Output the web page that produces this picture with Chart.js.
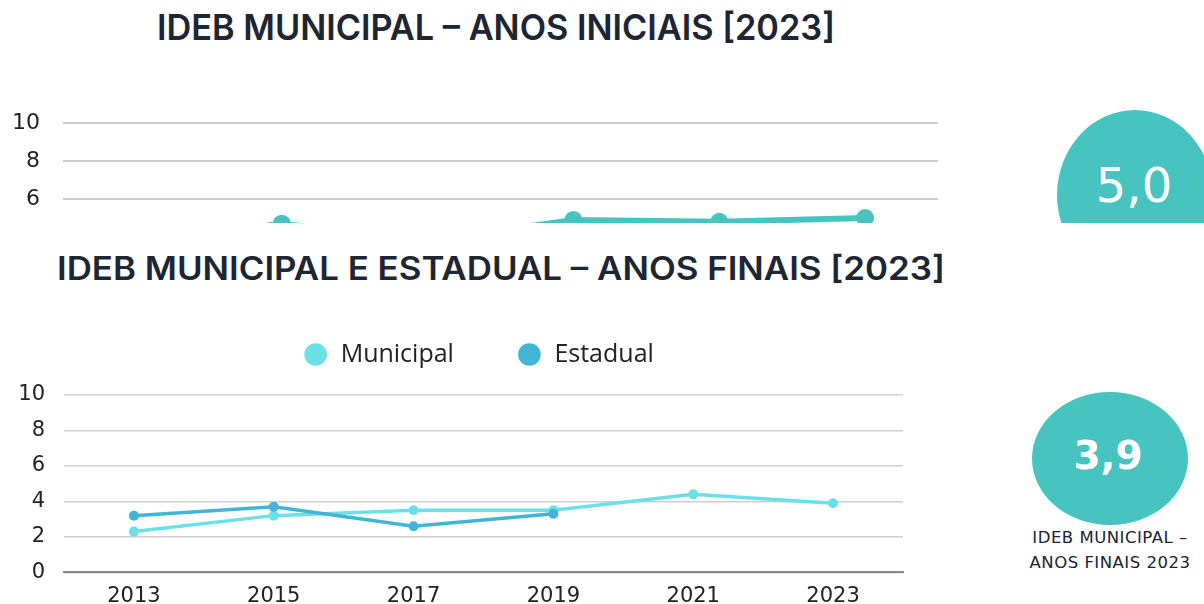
<!DOCTYPE html>
<html>
<head>
<meta charset="utf-8">
<script src="https://cdn.jsdelivr.net/npm/chart.js@4.4.1/dist/chart.umd.min.js"></script>
<style>
  html, body { margin:0; padding:0; background:#ffffff; }
  body { width:1204px; height:604px; overflow:hidden; position:relative; font-family:"Liberation Sans", Arial, sans-serif; }
  #topPanel { position:absolute; left:0; top:0; width:1204px; height:223px; overflow:hidden; }
  .title { position:absolute; white-space:nowrap; font-weight:600; color:#1f2633; font-family:Inter, "Liberation Sans", Arial, sans-serif; transform-origin:0 0; }
  #title1 { left:157px; top:9px; font-size:36px; line-height:36px; }
  #title2 { left:57px; top:253px; font-size:32px; line-height:32px; }
  #topChartBox { position:absolute; left:0; top:0; width:947px; height:353px; }
  #bottomChartBox { position:absolute; left:0; top:279px; width:944px; height:325px; }
  .ellipse { position:absolute; background:#47c4bf; border-radius:50%; }
  .badgeText { position:absolute; color:#ffffff; text-align:center; white-space:nowrap; font-family:"DejaVu Sans", sans-serif; }
  #caption { position:absolute; left:1010px; width:200px; top:525px; text-align:center; font-family:"DejaVu Sans", sans-serif; font-size:16.5px; line-height:25px; letter-spacing:0.5px; color:#1b2233; white-space:nowrap; }
</style>
</head>
<body>
<div id="topPanel">
  <div class="title" id="title1" data-w="678">IDEB MUNICIPAL – ANOS INICIAIS [2023]</div>
  <div id="topChartBox"><canvas id="topChart" width="947" height="353"></canvas></div>
  <div class="ellipse" style="left:1057px; top:110px; width:156px; height:170px;"></div>
  <div class="badgeText" style="left:1034px; width:200px; top:155px; height:60px; line-height:60px; font-size:48px;">5,0</div>
</div>

<div class="title" id="title2" data-w="888">IDEB MUNICIPAL E ESTADUAL – ANOS FINAIS [2023]</div>
<div id="bottomChartBox"><canvas id="bottomChart" width="944" height="325"></canvas></div>

<div class="ellipse" style="left:1032px; top:392px; width:156px; height:133px;"></div>
<div class="badgeText" style="left:1008px; width:200px; top:426px; height:60px; line-height:60px; font-size:39px; font-weight:bold;">3,9</div>
<div id="caption">IDEB MUNICIPAL –<br>ANOS FINAIS 2023</div>

<script>
// ---- data ----
const years = ['2013', '2015', '2017', '2019', '2021', '2023'];
const iniciaisMunicipal = [3.7, 4.7, 3.8, 4.9, 4.8, 5.0];
const finaisMunicipal = [2.3, 3.2, 3.5, 3.5, 4.4, 3.9];
const finaisEstadual = [3.2, 3.7, 2.6, 3.3, null, null];
const yMin = 0;
const yMax = 10;
const yStep = 2;

// ---- styles ----
const tickColor = '#222222';
const gridColor = '#cfcfcf';

// fit titles to the reference widths
document.querySelectorAll('.title').forEach(el => {
  const target = parseFloat(el.dataset.w);
  const w = el.getBoundingClientRect().width;
  if (w > 0) el.style.transform = 'scaleX(' + (target / w) + ')';
});

const legendSpacing = {
  id: 'legendSpacing',
  beforeInit(chart) {
    if (!chart.legend) return;
    const origFit = chart.legend.fit;
    chart.legend.fit = function () {
      origFit.call(this);
      this.height = 116;
    };
  },
  afterLayout(chart) {
    if (chart.legend) chart.legend.left += 54;
  }
};

new Chart(document.getElementById('topChart'), {
  type: 'line',
  data: {
    labels: years,
    datasets: [{
      label: 'Municipal',
      data: iniciaisMunicipal,
      borderColor: '#47c4bf',
      backgroundColor: '#47c4bf',
      borderWidth: 6,
      pointRadius: 9,
      pointHoverRadius: 9,
      pointBorderWidth: 0,
      tension: 0
    }]
  },
  options: {
    responsive: false,
    animation: false,
    layout: { padding: { top: 123, left: 0, right: 3, bottom: 0 } },
    plugins: { legend: { display: false }, tooltip: { enabled: false } },
    scales: {
      x: {
        offset: true,
        grid: { display: false },
        border: { display: false },
        ticks: { font: { family: 'DejaVu Sans', size: 22 }, color: tickColor },
        afterFit(s) { s.height = 40; }
      },
      y: {
        min: yMin, max: yMax,
        ticks: { stepSize: yStep, padding: 23, font: { family: 'DejaVu Sans', size: 22 }, color: tickColor },
        grid: { color: gridColor, lineWidth: 2, drawTicks: false },
        border: { display: false },
        afterFit(s) { s.width = 63; }
      }
    }
  }
});

new Chart(document.getElementById('bottomChart'), {
  type: 'line',
  data: {
    labels: years,
    datasets: [{
      label: 'Municipal',
      data: finaisMunicipal,
      borderColor: '#6be1e7',
      backgroundColor: '#6be1e7',
      borderWidth: 3.5,
      pointRadius: 5,
      pointHoverRadius: 5,
      pointBorderWidth: 0,
      pointStyle: 'circle',
      tension: 0,
      order: 2
    }, {
      label: 'Estadual',
      data: finaisEstadual,
      borderColor: '#42b5d5',
      backgroundColor: '#42b5d5',
      borderWidth: 3.5,
      pointRadius: 5,
      pointHoverRadius: 5,
      pointBorderWidth: 0,
      pointStyle: 'circle',
      tension: 0,
      order: 1
    }]
  },
  options: {
    responsive: false,
    animation: false,
    layout: { padding: { top: 0, left: 0, right: 41, bottom: 0 } },
    plugins: {
      tooltip: { enabled: false },
      legend: {
        display: true,
        position: 'top',
        labels: {
          usePointStyle: true,
          pointStyle: 'circle',
          boxHeight: 16,
          padding: 63,
          color: tickColor,
          font: { family: 'Open Sans', size: 25 },
          sort: (a, b) => a.datasetIndex - b.datasetIndex
        }
      }
    },
    scales: {
      x: {
        offset: true,
        grid: { display: false },
        border: { display: true, color: '#8a8a8a', width: 2 },
        ticks: { padding: 4, font: { family: 'DejaVu Sans', size: 21 }, color: tickColor },
        afterFit(s) { s.height = 30; }
      },
      y: {
        min: yMin, max: yMax,
        ticks: { stepSize: yStep, padding: 19, font: { family: 'DejaVu Sans', size: 21 }, color: tickColor },
        grid: { color: gridColor, lineWidth: 1.5, drawTicks: false },
        border: { display: false },
        afterFit(s) { s.width = 64; }
      }
    }
  },
  plugins: [legendSpacing]
});
</script>
</body>
</html>
